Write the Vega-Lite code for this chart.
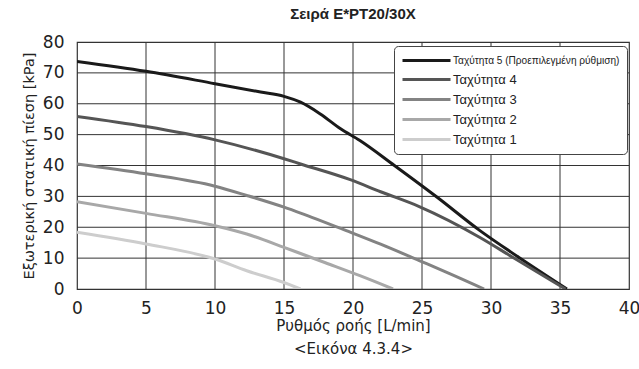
{
  "$schema": "https://vega.github.io/schema/vega-lite/v6.json",
  "autosize": {"type": "none"},
  "width": 552,
  "height": 247,
  "padding": {"left": 77, "top": 42, "right": 10, "bottom": 80},
  "background": "white",
  "title": {"text": "Σειρά E*PT20/30X", "fontSize": 15, "fontWeight": "bold", "font": "Liberation Sans", "color": "#222", "offset": 11, "anchor": "middle"},
  "config": {
    "font": "DejaVu Sans",
    "view": {"stroke": "#333", "strokeWidth": 1.2},
    "axis": {"tickSize": 0, "domainOpacity": 0, "labelOverlap": false, "labelColor": "#222", "titleColor": "#222", "titleFontWeight": "normal"}
  },
  "datasets": {
    "curves": [
      {"speed": "Ταχύτητα 5 (Προεπιλεγμένη ρύθμιση)", "x": 0, "y": 73.7},
      {"speed": "Ταχύτητα 5 (Προεπιλεγμένη ρύθμιση)", "x": 5, "y": 70.5},
      {"speed": "Ταχύτητα 5 (Προεπιλεγμένη ρύθμιση)", "x": 10, "y": 66.5},
      {"speed": "Ταχύτητα 5 (Προεπιλεγμένη ρύθμιση)", "x": 13.3, "y": 63.8},
      {"speed": "Ταχύτητα 5 (Προεπιλεγμένη ρύθμιση)", "x": 15, "y": 62.4},
      {"speed": "Ταχύτητα 5 (Προεπιλεγμένη ρύθμιση)", "x": 16.2, "y": 60.5},
      {"speed": "Ταχύτητα 5 (Προεπιλεγμένη ρύθμιση)", "x": 17.6, "y": 56.8},
      {"speed": "Ταχύτητα 5 (Προεπιλεγμένη ρύθμιση)", "x": 19.1, "y": 51.9},
      {"speed": "Ταχύτητα 5 (Προεπιλεγμένη ρύθμιση)", "x": 20.5, "y": 48.1},
      {"speed": "Ταχύτητα 5 (Προεπιλεγμένη ρύθμιση)", "x": 23, "y": 40},
      {"speed": "Ταχύτητα 5 (Προεπιλεγμένη ρύθμιση)", "x": 26.1, "y": 29.7},
      {"speed": "Ταχύτητα 5 (Προεπιλεγμένη ρύθμιση)", "x": 29.2, "y": 18.9},
      {"speed": "Ταχύτητα 5 (Προεπιλεγμένη ρύθμιση)", "x": 32, "y": 10.3},
      {"speed": "Ταχύτητα 5 (Προεπιλεγμένη ρύθμιση)", "x": 35.5, "y": 0},
      {"speed": "Ταχύτητα 4", "x": 0, "y": 55.9},
      {"speed": "Ταχύτητα 4", "x": 5, "y": 52.6},
      {"speed": "Ταχύτητα 4", "x": 10, "y": 48.3},
      {"speed": "Ταχύτητα 4", "x": 15, "y": 42.2},
      {"speed": "Ταχύτητα 4", "x": 16.2, "y": 40.5},
      {"speed": "Ταχύτητα 4", "x": 19.8, "y": 35.4},
      {"speed": "Ταχύτητα 4", "x": 22, "y": 31.5},
      {"speed": "Ταχύτητα 4", "x": 24.8, "y": 26.7},
      {"speed": "Ταχύτητα 4", "x": 29.2, "y": 16.7},
      {"speed": "Ταχύτητα 4", "x": 31.6, "y": 10.2},
      {"speed": "Ταχύτητα 4", "x": 35.4, "y": 0},
      {"speed": "Ταχύτητα 3", "x": 0, "y": 40.5},
      {"speed": "Ταχύτητα 3", "x": 5, "y": 37.3},
      {"speed": "Ταχύτητα 3", "x": 10, "y": 33.3},
      {"speed": "Ταχύτητα 3", "x": 12.3, "y": 30.3},
      {"speed": "Ταχύτητα 3", "x": 15, "y": 26.5},
      {"speed": "Ταχύτητα 3", "x": 16.2, "y": 24.6},
      {"speed": "Ταχύτητα 3", "x": 19.8, "y": 18.4},
      {"speed": "Ταχύτητα 3", "x": 22, "y": 14.5},
      {"speed": "Ταχύτητα 3", "x": 24.8, "y": 9.2},
      {"speed": "Ταχύτητα 3", "x": 27, "y": 5},
      {"speed": "Ταχύτητα 3", "x": 29.5, "y": 0},
      {"speed": "Ταχύτητα 2", "x": 0, "y": 28.3},
      {"speed": "Ταχύτητα 2", "x": 5, "y": 24.5},
      {"speed": "Ταχύτητα 2", "x": 10, "y": 20.5},
      {"speed": "Ταχύτητα 2", "x": 12.3, "y": 17.8},
      {"speed": "Ταχύτητα 2", "x": 15, "y": 13.5},
      {"speed": "Ταχύτητα 2", "x": 16.2, "y": 11.5},
      {"speed": "Ταχύτητα 2", "x": 18, "y": 8.5},
      {"speed": "Ταχύτητα 2", "x": 20.5, "y": 4.3},
      {"speed": "Ταχύτητα 2", "x": 22.9, "y": 0},
      {"speed": "Ταχύτητα 1", "x": 0, "y": 18.4},
      {"speed": "Ταχύτητα 1", "x": 5, "y": 14.6},
      {"speed": "Ταχύτητα 1", "x": 10, "y": 9.7},
      {"speed": "Ταχύτητα 1", "x": 12.3, "y": 5.9},
      {"speed": "Ταχύτητα 1", "x": 15, "y": 2.1},
      {"speed": "Ταχύτητα 1", "x": 16.2, "y": 0}
    ],
    "vgrid": [{"x": 5}, {"x": 10}, {"x": 15}, {"x": 20}, {"x": 25}, {"x": 30}, {"x": 35}],
    "hgrid": [{"y": 10}, {"y": 20}, {"y": 30}, {"y": 40}, {"y": 50}, {"y": 60}, {"y": 70}]
  },
  "layer": [
    {
      "data": {"name": "vgrid"},
      "mark": {"type": "rule", "color": "#333", "strokeWidth": 1},
      "encoding": {"x": {"field": "x", "type": "quantitative",
          "scale": {"domain": [0, 40], "nice": false},
          "axis": {"grid": false, "values": [0, 5, 10, 15, 20, 25, 30, 35, 40], "labelFontSize": 17, "labelPadding": 11, "labelFlush": false,
            "title": ["Ρυθμός ροής [L/min]", "<Εικόνα 4.3.4>"], "titleFontSize": 15, "titleLineHeight": 23, "titlePadding": 2}}}
    },
    {
      "data": {"name": "hgrid"},
      "mark": {"type": "rule", "color": "#333", "strokeWidth": 1},
      "encoding": {"y": {"field": "y", "type": "quantitative",
          "scale": {"domain": [0, 80], "nice": false},
          "axis": {"grid": false, "values": [0, 10, 20, 30, 40, 50, 60, 70, 80], "labelFontSize": 17, "labelPadding": 13, "labelFlush": false,
            "title": "Εξωτερική στατική πίεση [kPa]", "titleFontSize": 14.5, "titlePadding": 6}}}
    },
    {
      "data": {"name": "curves"},
      "mark": {"type": "line", "strokeWidth": 3, "interpolate": "monotone", "clip": true},
      "encoding": {
        "x": {"field": "x", "type": "quantitative",
          "scale": {"domain": [0, 40], "nice": false},
          "axis": {"grid": false, "values": [0, 5, 10, 15, 20, 25, 30, 35, 40], "labelFontSize": 17, "labelPadding": 11, "labelFlush": false,
            "title": ["Ρυθμός ροής [L/min]", "<Εικόνα 4.3.4>"], "titleFontSize": 15, "titleLineHeight": 23, "titlePadding": 2}},
        "y": {"field": "y", "type": "quantitative",
          "scale": {"domain": [0, 80], "nice": false},
          "axis": {"grid": false, "values": [0, 10, 20, 30, 40, 50, 60, 70, 80], "labelFontSize": 17, "labelPadding": 13, "labelFlush": false,
            "title": "Εξωτερική στατική πίεση [kPa]", "titleFontSize": 14.5, "titlePadding": 6}},
        "color": {"field": "speed", "type": "nominal",
          "scale": {"domain": ["Ταχύτητα 5 (Προεπιλεγμένη ρύθμιση)", "Ταχύτητα 4", "Ταχύτητα 3", "Ταχύτητα 2", "Ταχύτητα 1"],
            "range": ["#1a1a1a", "#555555", "#838383", "#a8a8a8", "#cdcdcd"]},
          "legend": {"title": null, "orient": "none", "legendX": 317, "legendY": 4,
            "symbolType": "M-1,0H7", "symbolStrokeWidth": 3, "symbolSize": 144,
            "labelFont": "Liberation Sans", "labelFontSize": 13, "labelColor": "#222", "labelOffset": 37, "labelLimit": 300,
            "padding": 7, "rowPadding": 5, "strokeColor": "#444", "fillColor": "white", "cornerRadius": 4,
            "encoding": {"labels": {"fontSize": {"condition": {"test": "length(datum.label) > 12", "value": 10.1}, "value": 13}}}}}
      }
    }
  ]
}
